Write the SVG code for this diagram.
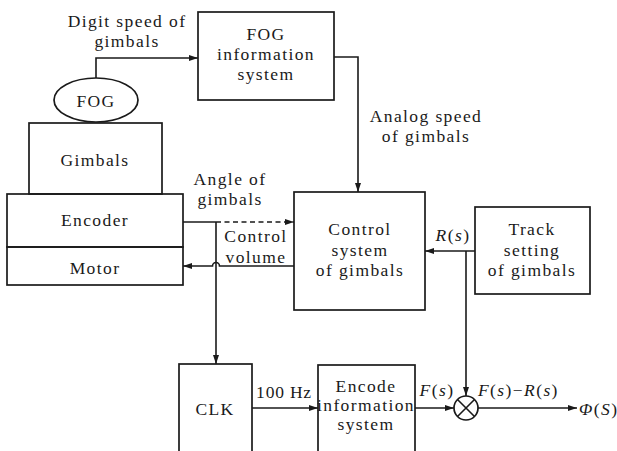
<svg xmlns="http://www.w3.org/2000/svg" width="617" height="451" viewBox="0 0 617 451">
  <style>
    .box { fill: none; stroke: #1a1a1a; stroke-width: 1.7; }
    .ln { fill: none; stroke: #1a1a1a; stroke-width: 1.6; }
    .arr { marker-end: url(#ah); }
    .dash { stroke-dasharray: 5 3.5; }
    text { font-size: 17.5px; fill: #1a1a1a; letter-spacing: 1.4px; }
    .c { text-anchor: middle; }
    .i { font-style: italic; }
  </style>
  <defs>
    <marker id="ah" viewBox="0 0 9 6" refX="9" refY="3" markerWidth="9" markerHeight="6" markerUnits="userSpaceOnUse" orient="auto">
      <path d="M0,0 L9,3 L0,6 z" fill="#1a1a1a"/>
    </marker>
  </defs>
  <rect width="617" height="451" fill="#ffffff"/>

  <g font-family="Liberation Serif, DejaVu Serif, serif">
  <!-- connectors -->
  <g id="connectors">
    <path class="ln arr" d="M96,78 V58 H198"/>
    <path class="ln arr" d="M334,57 H358 V192"/>
    <path class="ln" d="M183,222 H216"/>
    <path class="ln dash arr" d="M216,222 H294"/>
    <path class="ln arr" d="M216,222 V364"/>
    <path class="ln arr" d="M294,266 H219.5 A3.5,3.5 0 0 0 212.5,266 H183"/>
    <path class="ln arr" d="M475,251 H425"/>
    <path class="ln arr" d="M466,251 V396"/>
    <path class="ln arr" d="M252,408 H318"/>
    <path class="ln arr" d="M415,408 H454"/>
    <path class="ln arr" d="M478,408 H577"/>
  </g>

  <!-- labels on connectors -->
  <g id="labels">
    <text class="c" x="127" y="27">Digit speed of</text>
    <text class="c" x="127" y="47">gimbals</text>
    <text class="c" x="426" y="122">Analog speed</text>
    <text class="c" x="426" y="142">of gimbals</text>
    <text class="c" x="230" y="185">Angle of</text>
    <text class="c" x="230" y="205">gimbals</text>
    <text class="c" x="256" y="242">Control</text>
    <text class="c" x="256" y="263">volume</text>
    <text class="c" x="453" y="241"><tspan class="i">R</tspan>(<tspan class="i">s</tspan>)</text>
    <text class="c" x="284" y="398" style="letter-spacing:0.8px">100 Hz</text>
    <text class="c" x="437" y="396"><tspan class="i">F</tspan>(<tspan class="i">s</tspan>)</text>
    <text x="478" y="396"><tspan class="i">F</tspan>(<tspan class="i">s</tspan>)−<tspan class="i">R</tspan>(<tspan class="i">s</tspan>)</text>
    <text x="579" y="415"><tspan class="i">Φ</tspan>(<tspan class="i">S</tspan>)</text>
  </g>

  <g id="fog-info">
    <rect class="box" x="198" y="12" width="136" height="88"/>
    <text class="c" x="266" y="40">FOG</text>
    <text class="c" x="266" y="60">information</text>
    <text class="c" x="266" y="80">system</text>
  </g>

  <g id="fog">
    <ellipse class="box" cx="96" cy="100" rx="42" ry="22"/>
    <text class="c" x="96" y="107">FOG</text>
  </g>

  <g id="gimbals">
    <rect class="box" x="29" y="123" width="133" height="71"/>
    <text class="c" x="95" y="166">Gimbals</text>
  </g>

  <g id="encoder">
    <rect class="box" x="7" y="194" width="176" height="53"/>
    <text class="c" x="95" y="226">Encoder</text>
  </g>

  <g id="motor">
    <rect class="box" x="7" y="247" width="176" height="38"/>
    <text class="c" x="95" y="274">Motor</text>
  </g>

  <g id="control-system">
    <rect class="box" x="294" y="192" width="131" height="118"/>
    <text class="c" x="360" y="235">Control</text>
    <text class="c" x="360" y="256">system</text>
    <text class="c" x="360" y="276">of gimbals</text>
  </g>

  <g id="track-setting">
    <rect class="box" x="475" y="207" width="115" height="87"/>
    <text class="c" x="532" y="235">Track</text>
    <text class="c" x="532" y="256">setting</text>
    <text class="c" x="532" y="276">of gimbals</text>
  </g>

  <g id="clk">
    <rect class="box" x="179" y="364" width="73" height="100"/>
    <text class="c" x="215" y="415">CLK</text>
  </g>

  <g id="encode-info">
    <rect class="box" x="318" y="365" width="97" height="99"/>
    <text class="c" x="366" y="392">Encode</text>
    <text class="c" x="366" y="411">information</text>
    <text class="c" x="366" y="430">system</text>
  </g>

  <g id="comparator">
    <circle class="box" cx="466" cy="408" r="12"/>
    <path class="ln" d="M457.5,399.5 L474.5,416.5 M474.5,399.5 L457.5,416.5"/>
  </g>
  </g>
</svg>
